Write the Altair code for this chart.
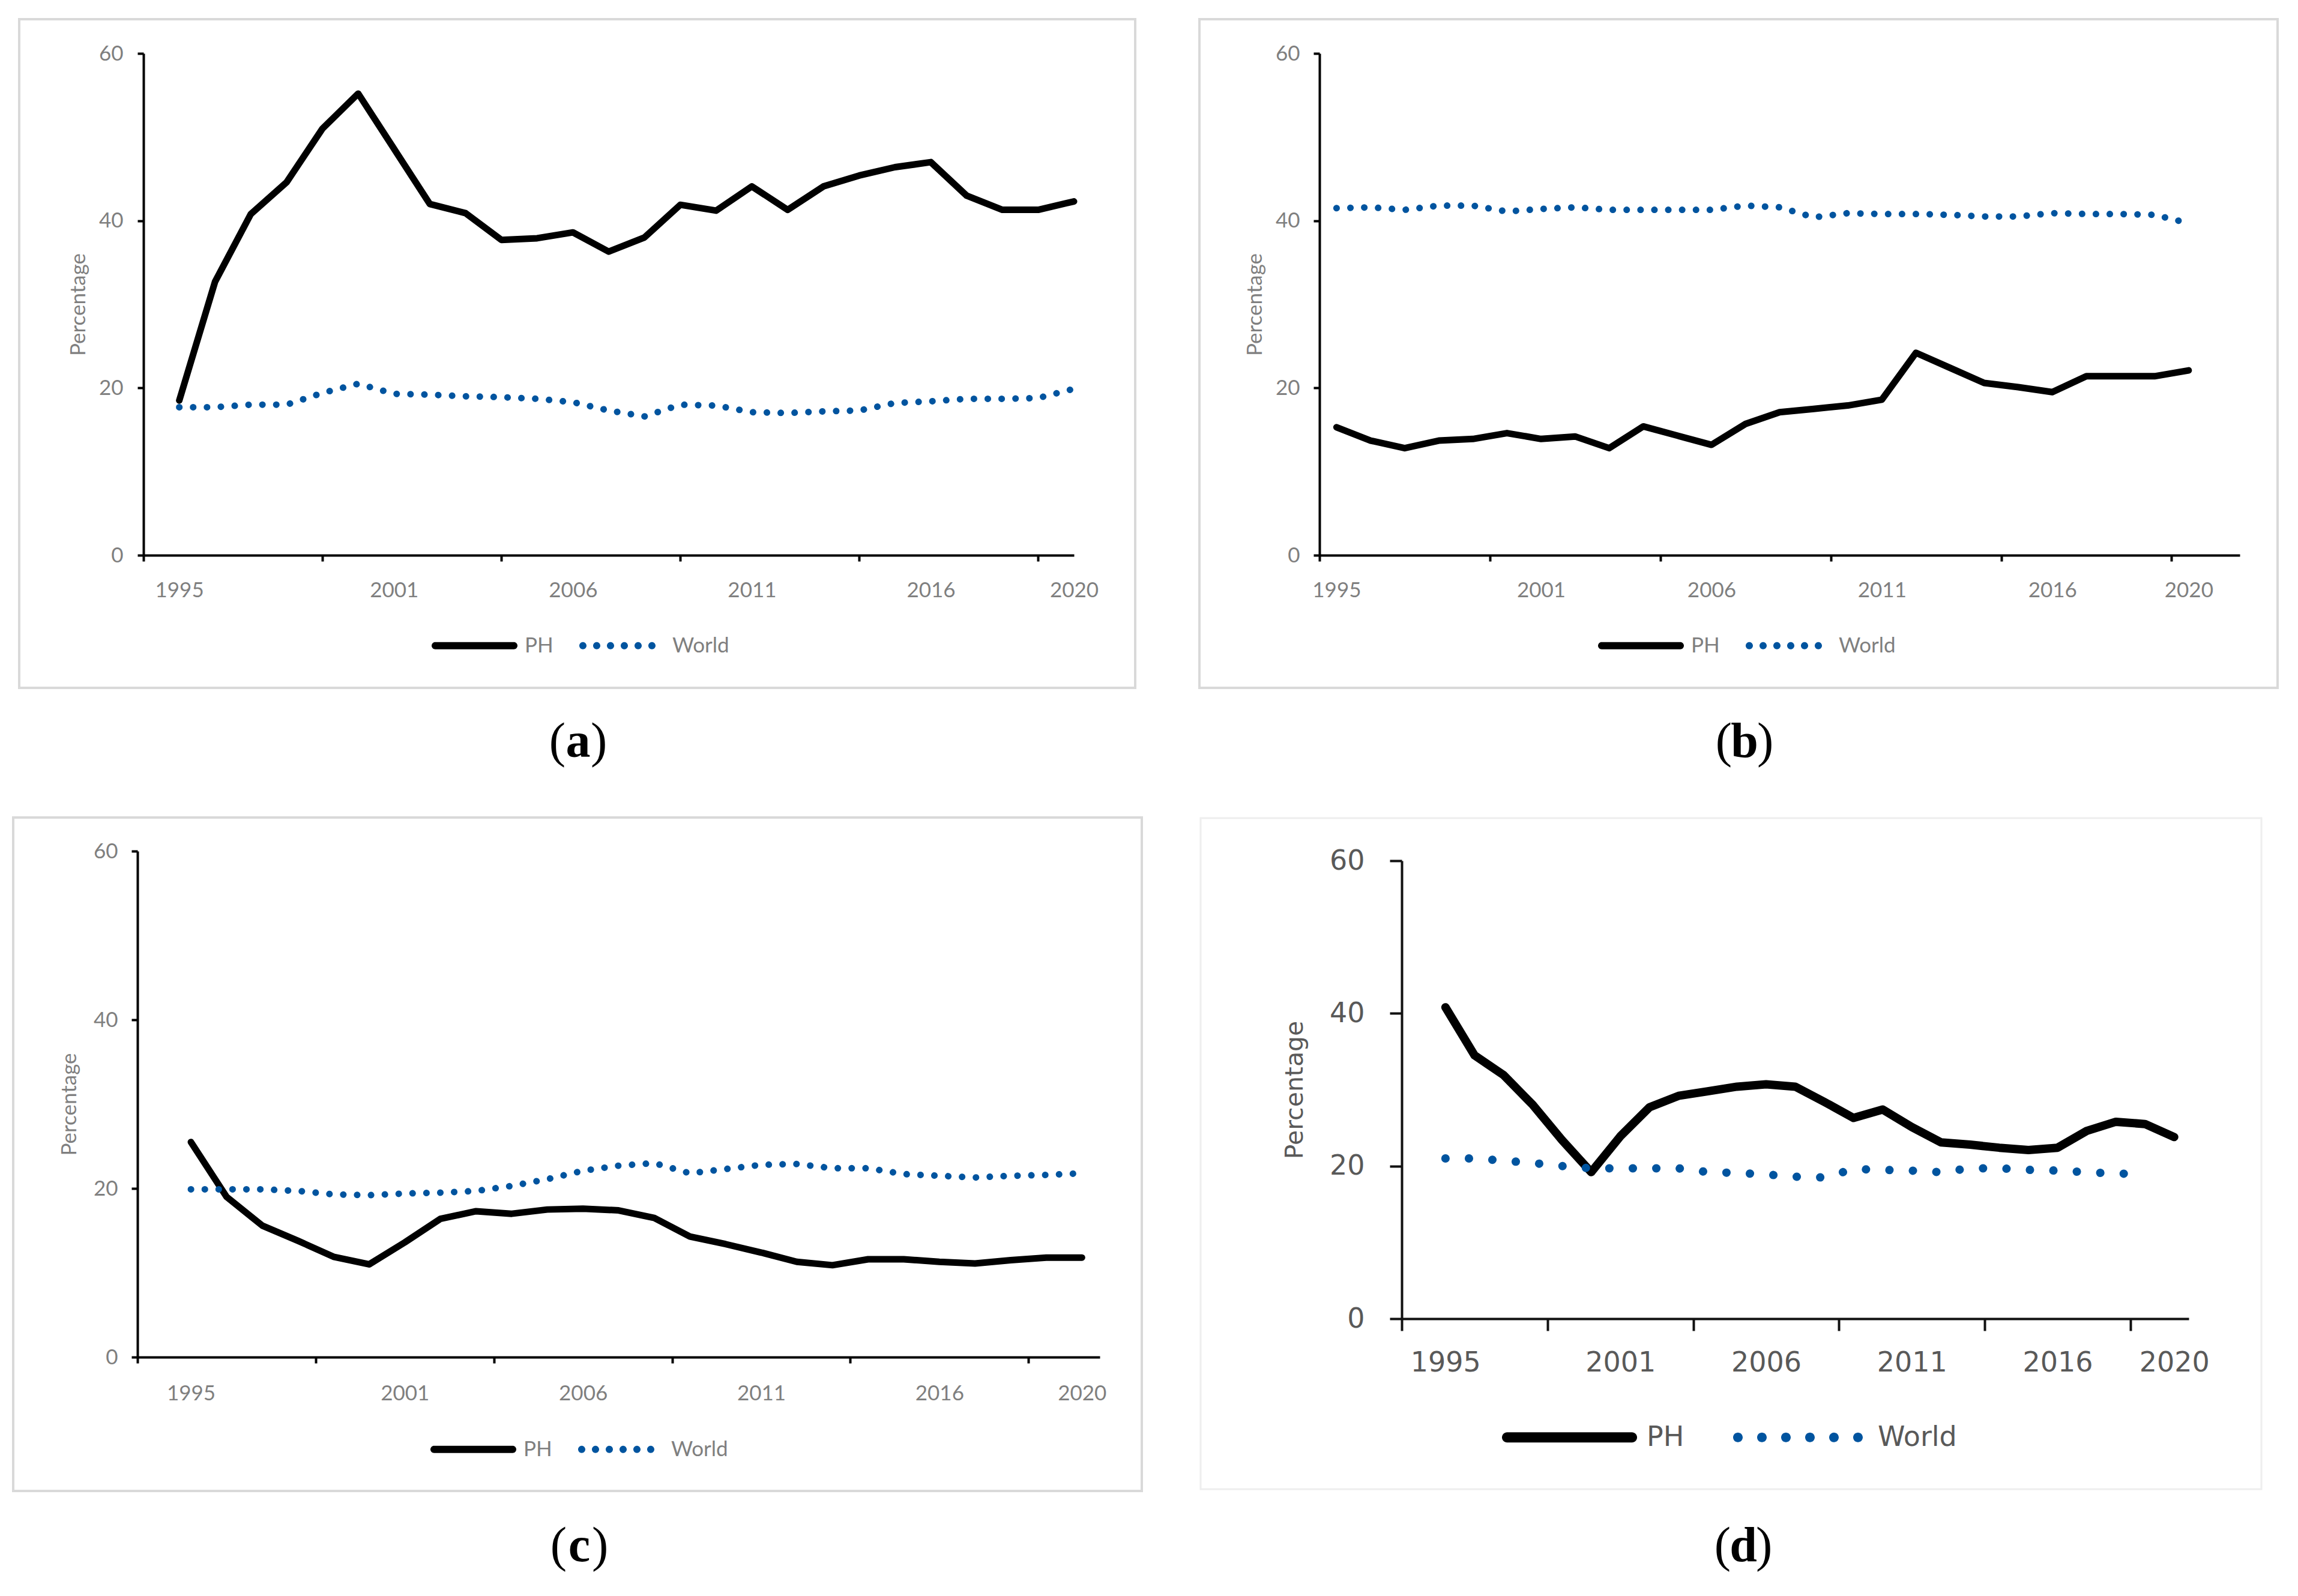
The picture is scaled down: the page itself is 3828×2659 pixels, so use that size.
import altair as alt
import pandas as pd

# ---------------- data ----------------
YEARS = list(range(1995, 2021))
SERIES = ["PH", "World"]
X_LABELS = [1995, 2001, 2006, 2011, 2016, 2020]
Y_TICKS = [0, 20, 40, 60]
PANEL_LETTERS = ["a", "b", "c", "d"]

PH_A = [18.5, 32.7, 40.8, 44.6, 51.0, 55.2, 48.6, 42.0, 40.9, 37.7, 37.9, 38.6, 36.3,
        38.0, 41.9, 41.2, 44.1, 41.3, 44.1, 45.4, 46.4, 47.0, 43.0, 41.3, 41.3, 42.3]
WORLD_A = [17.7, 17.7, 18.0, 18.0, 19.4, 20.5, 19.3, 19.2, 19.0, 18.9, 18.7, 18.3, 17.3,
           16.6, 18.0, 17.9, 17.1, 17.0, 17.2, 17.3, 18.2, 18.4, 18.7, 18.7, 18.8, 19.9]

PH_B = [15.3, 13.7, 12.8, 13.7, 13.9, 14.6, 13.9, 14.2, 12.8, 15.4, 14.3, 13.2, 15.7,
        17.1, 17.5, 17.9, 18.6, 24.2, 22.4, 20.6, 20.1, 19.5, 21.4, 21.4, 21.4, 22.1]
WORLD_B = [41.5, 41.6, 41.3, 41.8, 41.8, 41.1, 41.4, 41.6, 41.3, 41.3, 41.3, 41.3, 41.8,
           41.6, 40.4, 40.9, 40.8, 40.8, 40.7, 40.5, 40.5, 40.9, 40.8, 40.8, 40.7, 39.7]

PH_C = [25.5, 19.0, 15.6, 13.8, 11.9, 11.0, 13.6, 16.4, 17.3, 17.0, 17.5, 17.6, 17.4,
        16.5, 14.3, 13.4, 12.4, 11.3, 10.9, 11.6, 11.6, 11.3, 11.1, 11.5, 11.8, 11.8]
WORLD_C = [19.9, 19.9, 19.9, 19.7, 19.3, 19.2, 19.4, 19.5, 19.7, 20.3, 21.1, 22.1, 22.7,
           23.0, 21.8, 22.3, 22.8, 22.9, 22.4, 22.4, 21.7, 21.5, 21.3, 21.5, 21.6, 21.8]

PH_D = [40.8, 34.5, 31.9, 28.0, 23.4, 19.2, 23.9, 27.7, 29.2, 29.8, 30.4, 30.7, 30.4,
        28.4, 26.3, 27.4, 25.1, 23.1, 22.8, 22.4, 22.1, 22.4, 24.6, 25.8, 25.5, 23.8]
WORLD_D = [21.0, 21.0, 20.7, 20.4, 20.0, 19.7, 19.7, 19.7, 19.7, 19.2, 19.1, 18.9, 18.6,
           18.5, 19.6, 19.5, 19.4, 19.2, 19.7, 19.7, 19.5, 19.4, 19.2, 19.0, 19.0, None]

BLUE = "#00549f"
ONE = pd.DataFrame({"k": [0]})


def make_df(ph, world):
    rows = []
    for s, vals in zip(SERIES, (ph, world)):
        for yr, v in zip(YEARS, vals):
            if v is not None:
                rows.append({"Year": yr, "Value": v, "Series": s})
    return pd.DataFrame(rows)


def f(v):
    return f"{v:.4f}"


def legend_shapes(width, thick, dot_d, dot_gap):
    """Custom legend symbols (unit square -1..1 spans `width` px)."""
    half = width / 2.0
    h = (thick / 2.0) / half
    line = (f"M{f(-1 + h)},{f(-h)} L{f(1 - h)},{f(-h)} A{f(h)},{f(h)} 0 0 1 {f(1 - h)},{f(h)} "
            f"L{f(-1 + h)},{f(h)} A{f(h)},{f(h)} 0 0 1 {f(-1 + h)},{f(-h)} Z")
    r = (dot_d / 2.0) / half
    step = dot_gap / half
    parts = []
    for i in range(6):
        cx = -1 + r + i * step
        parts.append(f"M{f(cx - r)},0 A{f(r)},{f(r)} 0 1 0 {f(cx + r)},0 "
                     f"A{f(r)},{f(r)} 0 1 0 {f(cx - r)},0 Z")
    return [line, " ".join(parts)]


def panel(ph, world, letter, p):
    df = make_df(ph, world)
    tick_vals = p["xticks"]
    all_vals = sorted(set(tick_vals + X_LABELS))
    lab_arr = ",".join(str(v) for v in X_LABELS)
    tick_arr = ",".join(repr(float(v)) for v in tick_vals)
    ox, oy = p["off"]

    xaxis = alt.Axis(
        values=all_vals, title=None, grid=False, labelFlush=False, labelOverlap=False,
        labelAngle=0,
        labelExpr=f"indexof([{lab_arr}], datum.value) >= 0 ? format(datum.value, 'd') : ''",
        tickOpacity={"condition": {"test": f"indexof([{tick_arr}], datum.value) >= 0", "value": 1},
                     "value": 0},
        domainColor=p["ac"], domainWidth=p["dw"], tickColor=p["ac"], tickWidth=p["dw"],
        tickSize=p["ts"], labelFont=p["font"], labelFontSize=p["fs"], labelColor=p["lc"],
        labelPadding=p["xpad"],
    )
    yaxis = alt.Axis(
        values=Y_TICKS, title="Percentage", grid=False, format="d", offset=-ox,
        domainColor=p["ac"], domainWidth=p["dw"], tickColor=p["ac"], tickWidth=p["dw"],
        tickSize=p["ts"], labelFont=p["font"], labelFontSize=p["fs"], labelColor=p["lc"],
        labelPadding=p["ypad"], titleFont=p["font"], titleFontSize=p["tfs"],
        titleFontWeight="normal", titleColor=p["lc"], titlePadding=p["tpad"],
    )
    xenc = alt.X("Year:Q", scale=alt.Scale(domain=p["xdom"], range=[ox, p["w"]], nice=False,
                                           zero=False), axis=xaxis)
    yenc = alt.Y("Value:Q", scale=alt.Scale(domain=[0, 60], range=[p["h"], oy], nice=False),
                 axis=yaxis)
    cscale = alt.Scale(domain=SERIES, range=["#000000", BLUE])

    leg = alt.Legend(
        title=None, orient="none", legendX=p["lx"], legendY=p["ly"], direction="horizontal",
        padding=0, symbolSize=p["lwid"] ** 2, symbolStrokeWidth=0, symbolOpacity=1,
        labelOffset=p["lo"], columnPadding=p["cp"], labelFont=p["font"],
        labelFontSize=p["lfs"], labelColor=p["lc"], labelLimit=1000,
    )
    # data lines: one layer per series, no legend-bearing encodings
    line_ph = alt.Chart(df).transform_filter(alt.datum.Series == SERIES[0]).mark_line(
        stroke="#000000", strokeWidth=p["lw"], strokeCap="round", strokeJoin="round"
    ).encode(x=xenc, y=yenc)
    line_w = alt.Chart(df).transform_filter(alt.datum.Series == SERIES[1]).mark_line(
        stroke=BLUE, strokeWidth=p["lw"], strokeCap="round", strokeJoin="round",
        strokeDash=[0.1, p["gap"]]
    ).encode(x=xenc, y=yenc)
    # invisible keys that carry the legend (solid bar / dotted symbols)
    shapes = legend_shapes(p["lwid"], p["lth"], p["dd"], p["lgap"])
    keys = alt.Chart(df).mark_point(filled=True, opacity=0).encode(
        x=xenc, y=yenc,
        color=alt.Color("Series:N", scale=cscale, legend=leg),
        shape=alt.Shape("Series:N", scale=alt.Scale(domain=SERIES, range=shapes), legend=leg),
    )

    fx1, fx2, fy1, fy2 = p["frame"]
    frame = alt.Chart(ONE).mark_rect(
        fill="white", fillOpacity=0, stroke=p["fc"], strokeWidth=p["fw"]
    ).encode(x=alt.value(fx1), x2=alt.value(fx2), y=alt.value(fy1), y2=alt.value(fy2))

    cx, cy = p["cap"]
    capf = "Liberation Serif"
    c1 = alt.Chart(ONE).mark_text(font=capf, fontSize=82, align="right", baseline="alphabetic",
                                  color="black").encode(
        x=alt.value(cx - 21), y=alt.value(cy), text=alt.value("("))
    c2 = alt.Chart(ONE).mark_text(font=capf, fontSize=82, fontWeight="bold", align="center",
                                  baseline="alphabetic", color="black").encode(
        x=alt.value(cx), y=alt.value(cy), text=alt.value(letter))
    c3 = alt.Chart(ONE).mark_text(font=capf, fontSize=82, align="left", baseline="alphabetic",
                                  color="black").encode(
        x=alt.value(cx + 21), y=alt.value(cy), text=alt.value(")"))

    return alt.layer(frame, line_ph, line_w, keys, c1, c2, c3).properties(
        width=p["w"], height=p["h"])


common = dict(font="Lato", fs=35, tfs=35, lfs=35, lc="#7f7f7f", ac="#000000", dw=4, ts=10,
              lw=11, gap=23, lwid=143, lth=12, dd=12, lgap=23, lo=12, cp=42,
              fc="#d9d9d9", fw=4)

# cell origins: column 1 at x=228, column 2 at x=2197; row 1 at y=88, row 2 at y=1417
pa = dict(common, xdom=[1994, 2020], xticks=[1994, 1999, 2004, 2009, 2014, 2019],
          w=1560, h=836, off=(10, 0), xpad=31, ypad=24, tpad=16, lx=490, ly=915,
          frame=(-197, 1662, -57, 1057), cap=(734, 1172))
pb = dict(common, xdom=[1994.5, 2021.5], xticks=[1994.5, 1999.5, 2004.5, 2009.5, 2014.5, 2019.5],
          w=1533, h=836, off=(0, 0), xpad=31, ypad=23, tpad=16, lx=464, ly=915,
          frame=(-200, 1596, -57, 1057), cap=(708, 1172))
pc = dict(common, xdom=[1993.5, 2020.5], xticks=[1993.5, 1998.5, 2003.5, 2008.5, 2013.5, 2018.5],
          w=1603, h=843, off=(0, 0), xpad=33, ypad=23, tpad=22, lx=488, ly=925,
          frame=(-207, 1673, -56, 1066), cap=(736, 1183))
pd_ = dict(font="DejaVu Sans", fs=46, tfs=41, lfs=46, lc="#595959", ac="#111111", dw=4, ts=20,
           lw=14, gap=39, lwid=225, lth=17, dd=16, lgap=40, lo=16, cp=81, fc="#eeeeee", fw=3,
           xdom=[1993.5, 2020.5], xticks=[1993.5, 1998.5, 2003.5, 2008.5, 2013.5, 2018.5],
           w=1448, h=779, off=(137, 16), xpad=31, ypad=42, tpad=36, lx=304, ly=864,
           frame=(-198, 1569, -55, 1063), cap=(706, 1183))

chart_a = panel(PH_A, WORLD_A, PANEL_LETTERS[0], pa)
chart_b = panel(PH_B, WORLD_B, PANEL_LETTERS[1], pb)
chart_c = panel(PH_C, WORLD_C, PANEL_LETTERS[2], pc)
chart_d = panel(PH_D, WORLD_D, PANEL_LETTERS[3], pd_)

chart = alt.concat(
    chart_a, chart_b, chart_c, chart_d, columns=2, bounds="flush",
    spacing={"row": 493, "column": 366},
).resolve_scale(
    color="independent", shape="independent"
).resolve_legend(
    color="independent", shape="independent"
).properties(
    padding={"left": 11, "top": 21, "right": 10, "bottom": 10},
    background="white",
).configure_view(stroke="transparent")

chart.save("out.html", embed_options={"renderer": "svg", "actions": False})
